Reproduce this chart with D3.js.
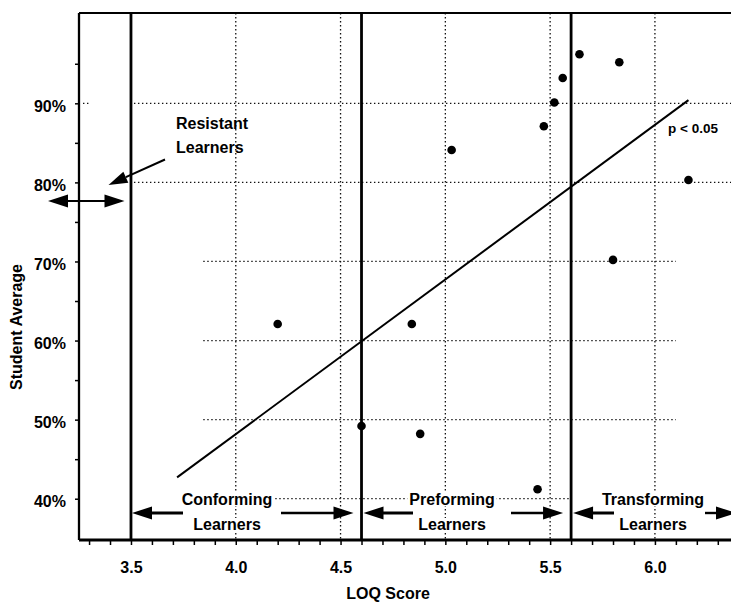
<!DOCTYPE html>
<html>
<head>
<meta charset="utf-8">
<script src="https://cdn.jsdelivr.net/npm/d3@7"></script>
<style>
  html, body { margin: 0; padding: 0; background: #fff; }
  svg { display: block; }
  text { font-family: "Liberation Sans", Arial, Helvetica, sans-serif; font-weight: bold; fill: #000; }
</style>
</head>
<body>
<svg id="chart" width="731" height="604"></svg>
<script>
// ---- data ----
const loqScores = [4.20, 4.60, 4.84, 4.88, 5.03, 5.44, 5.47, 5.52, 5.56, 5.64, 5.80, 5.83, 6.16];
const studentAverages = [62.1, 49.2, 62.1, 48.2, 84.1, 41.2, 87.1, 90.1, 93.2, 96.2, 70.2, 95.2, 80.3];
const trendX = [3.72, 6.16];
const trendY = [42.7, 90.4];
const boundaries = [3.5, 4.6, 5.6];
const xTickValues = d3.range(33, 64).map(d => d / 10);
const xTickLabels = [3.5, 4.0, 4.5, 5.0, 5.5, 6.0];
const yTickValues = [40, 45, 50, 55, 60, 65, 70, 75, 80, 85, 90, 95];
const yTickLabels = [40, 50, 60, 70, 80, 90];
const xGrid = [4.0, 4.5, 5.0, 5.5, 6.0];
const yGridLong = [90, 80];
const yGridShort = [70, 60, 50];
const yGridBottom = [40];
const zoneNames = [["Conforming", "Learners"], ["Preforming", "Learners"], ["Transforming", "Learners"]];

// ---- layout ----
const W = 731, H = 604;
const L = 79, R = 731, T = 13, B = 540;
const svg = d3.select("#chart");

const x = d3.scaleLinear().domain([3.252, 6.363]).range([L, R]);
const y = d3.scaleLinear().domain([34.78, 101.42]).range([B, T]);

// grid (dotted)
const grid = svg.append("g").attr("stroke", "#111").attr("stroke-width", 1.3)
  .attr("stroke-dasharray", "1.4,2.6").attr("fill", "none");
grid.selectAll(".vg").data(xGrid).join("line")
  .attr("x1", d => x(d)).attr("x2", d => x(d)).attr("y1", T).attr("y2", B);
grid.selectAll(".hl").data(yGridLong).join("line")
  .attr("x1", x(3.5) + 3).attr("x2", R).attr("y1", d => y(d)).attr("y2", d => y(d));
grid.selectAll(".hs").data(yGridShort).join("line")
  .attr("x1", x(3.845)).attr("x2", x(6.1)).attr("y1", d => y(d)).attr("y2", d => y(d));
grid.selectAll(".hb").data(yGridBottom).join("line")
  .attr("x1", x(3.845)).attr("x2", x(5.6)).attr("y1", d => y(d)).attr("y2", d => y(d));
grid.append("line").attr("x1", L + 4).attr("x2", L + 12).attr("y1", y(90)).attr("y2", y(90));

// frame top
svg.append("line").attr("x1", L).attr("x2", R).attr("y1", T).attr("y2", T)
  .attr("stroke", "#000").attr("stroke-width", 2.2);

// boundaries
svg.selectAll(".bnd").data(boundaries).join("line")
  .attr("x1", d => x(d)).attr("x2", d => x(d)).attr("y1", T).attr("y2", B)
  .attr("stroke", "#000").attr("stroke-width", 2.8);

// axes
const xAxis = d3.axisBottom(x).tickValues(xTickValues).tickSize(5).tickSizeOuter(0).tickPadding(17)
  .tickFormat(d => xTickLabels.some(v => Math.abs(v - d) < 1e-6) ? d3.format(".1f")(d) : "");
const gx = svg.append("g").attr("transform", `translate(0,${B})`).call(xAxis);
gx.select(".domain").attr("stroke-width", 2.8).attr("d", `M${L},0H${R}`);
gx.selectAll(".tick line").attr("stroke-width", 1.5);
gx.selectAll(".tick text").attr("font-size", 16).attr("dy", "0.71em");

const yAxis = d3.axisLeft(y).tickValues(yTickValues).tickSize(4).tickSizeOuter(0).tickPadding(9)
  .tickFormat(d => yTickLabels.includes(d) ? d + "%" : "");
const gy = svg.append("g").attr("transform", `translate(${L},0)`).call(yAxis);
gy.select(".domain").attr("stroke-width", 2.3).attr("d", `M0,${T}V${B}`);
gy.selectAll(".tick line").attr("stroke-width", 1.5);
gy.selectAll(".tick text").attr("font-size", 16).attr("dy", "0.5em");
svg.selectAll(".tick text").style("font-family", "'Liberation Sans', Arial, sans-serif").style("font-weight", "bold");

// axis titles
svg.append("text").attr("x", 388).attr("y", 599).attr("text-anchor", "middle")
  .attr("font-size", 16).text("LOQ Score");
svg.append("text").attr("transform", "translate(22,327) rotate(-90)").attr("text-anchor", "middle")
  .attr("font-size", 16).text("Student Average");

// regression line
svg.append("line")
  .attr("x1", x(trendX[0])).attr("y1", y(trendY[0]))
  .attr("x2", x(trendX[1])).attr("y2", y(trendY[1]))
  .attr("stroke", "#000").attr("stroke-width", 2);
svg.append("text").attr("x", 668).attr("y", 133).attr("font-size", 13.5).text("p < 0.05");

// points
svg.selectAll(".pt").data(loqScores).join("circle")
  .attr("cx", d => x(d)).attr("cy", (d, i) => y(studentAverages[i])).attr("r", 4.3)
  .attr("fill", "#000");

// arrow helper
function arrow(tipX, tailX, yy, sw, headLen, headHalf) {
  const dir = Math.sign(tipX - tailX);
  const baseX = tipX - dir * headLen;
  svg.append("line").attr("x1", tailX).attr("x2", baseX + dir * 1).attr("y1", yy).attr("y2", yy)
    .attr("stroke", "#000").attr("stroke-width", sw);
  svg.append("path").attr("d", `M${tipX},${yy}L${baseX},${yy - headHalf}L${baseX},${yy + headHalf}Z`)
    .attr("fill", "#000");
}

// zone labels with white backdrops
const zoneLabelX = [227, 452, 653];
const labelG = svg.append("g");
zoneNames.forEach((lines, i) => {
  lines.forEach((t, j) => {
    const tx = labelG.append("text").attr("x", zoneLabelX[i]).attr("y", 505 + j * 25)
      .attr("text-anchor", "middle").attr("font-size", 16).text(t);
    const bb = tx.node().getBBox();
    labelG.insert("rect", "text").attr("x", bb.x - 2).attr("y", bb.y + 2).attr("width", bb.width + 4)
      .attr("height", bb.height - 4).attr("fill", "#fff");
  });
});

// zone arrows
const ay = 513;
arrow(x(3.5) + 1, 183, ay, 3, 20, 6.5);
arrow(x(4.6) - 8, 281, ay, 2.4, 20, 6.5);
arrow(x(4.6) + 2, 413, ay, 3, 20, 6.5);
arrow(x(5.6) - 8, 511, ay, 2.4, 20, 6.5);
arrow(x(5.6) + 2, 614, ay, 3, 20, 6.5);
arrow(736, 705, ay, 2.4, 20, 6.5);

// resistant learners
svg.append("text").attr("x", 176).attr("y", 129).attr("font-size", 16).text("Resistant");
svg.append("text").attr("x", 176).attr("y", 153).attr("font-size", 16).text("Learners");
arrow(48, 90, 201, 2, 20, 6.5);
arrow(124.5, 80, 201, 2, 20, 6.5);
// pointer
(function () {
  const x0 = 165, y0 = 159.5, x1 = 108.5, y1 = 185;
  const ang = Math.atan2(y1 - y0, x1 - x0);
  const hl = 19, hh = 6;
  const bx = x1 - hl * Math.cos(ang), by = y1 - hl * Math.sin(ang);
  const px = -Math.sin(ang) * hh, py = Math.cos(ang) * hh;
  svg.append("line").attr("x1", x0).attr("y1", y0).attr("x2", bx).attr("y2", by)
    .attr("stroke", "#000").attr("stroke-width", 2);
  svg.append("path").attr("d", `M${x1},${y1}L${bx + px},${by + py}L${bx - px},${by - py}Z`).attr("fill", "#000");
})();
</script>
</body>
</html>
